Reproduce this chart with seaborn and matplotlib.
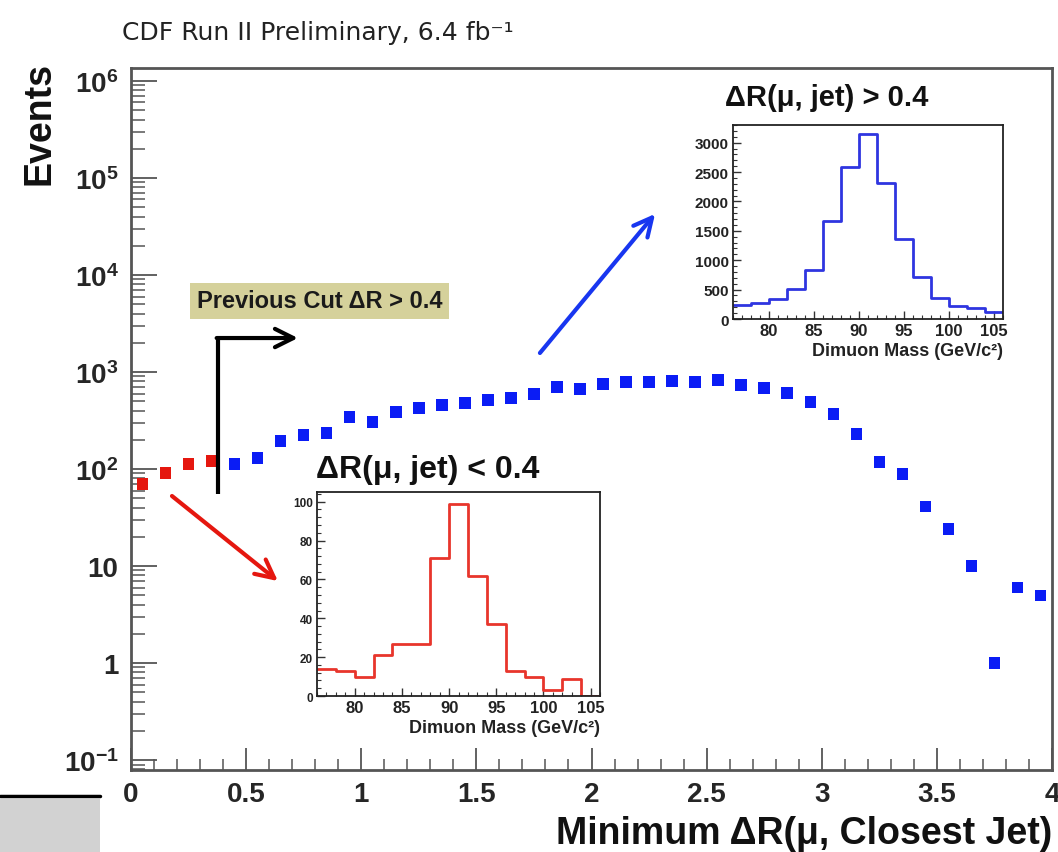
import matplotlib
matplotlib.use("Agg")
import matplotlib.pyplot as plt
import matplotlib.ticker as mticker
import matplotlib.patches as mpatches
import numpy as np
import pandas as pd
import seaborn as sns

# ---- Minimum dR(mu, closest jet): bin centres (width 0.1) and event counts ----
dr_centers = [0.05, 0.15, 0.25, 0.35, 0.45, 0.55, 0.65, 0.75, 0.85, 0.95,
              1.05, 1.15, 1.25, 1.35, 1.45, 1.55, 1.65, 1.75, 1.85, 1.95,
              2.05, 2.15, 2.25, 2.35, 2.45, 2.55, 2.65, 2.75, 2.85, 2.95,
              3.05, 3.15, 3.25, 3.35, 3.45, 3.55, 3.65, 3.75, 3.85, 3.95]
dr_events = [70, 91, 113, 121, 113, 130, 194, 224, 235, 343,
             305, 387, 426, 457, 479, 514, 539, 593, 699, 668,
             751, 788, 788, 807, 788, 827, 734, 684, 608, 491,
             369, 230, 118, 89, 41, 24, 10, 1, 6, 5]
dr_cut = 0.4

# ---- Dimuon mass spectra (2 GeV bins, 76-106 GeV) ----
mass_edges = [76, 78, 80, 82, 84, 86, 88, 90, 92, 94, 96, 98, 100, 102, 104, 106]
mass_far = [230, 265, 340, 510, 838, 1670, 2594, 3143, 2305, 1359, 708, 357, 215, 181, 113]
mass_near = [14, 13, 10, 21, 27, 27, 71, 99, 62, 37, 13, 10, 3, 9, 0]

x_tick_vals = [0, 0.5, 1, 1.5, 2, 2.5, 3, 3.5, 4]
x_tick_labels = ["0", "0.5", "1", "1.5", "2", "2.5", "3", "3.5", "4"]
y_tick_vals = [1e-1, 1, 10, 1e2, 1e3, 1e4, 1e5, 1e6]
y_tick_labels = [r"$10^{-1}$", "1", "10", r"$10^{2}$", r"$10^{3}$",
                 r"$10^{4}$", r"$10^{5}$", r"$10^{6}$"]

BLUE = "#0a1cf5"
RED = "#e5170f"
HIST_BLUE = "#2f35e0"
HIST_RED = "#e8352c"

sns.set_theme(style="white")
plt.rcParams["font.family"] = ["Liberation Sans", "DejaVu Sans"]
plt.rcParams["mathtext.fontset"] = "custom"
plt.rcParams["mathtext.rm"] = "Liberation Sans:bold"
plt.rcParams["mathtext.it"] = "Liberation Sans:bold:italic"
plt.rcParams["mathtext.bf"] = "Liberation Sans:bold"
plt.rcParams["mathtext.default"] = "rm"

W, H = 1058, 853
fig = plt.figure(figsize=(W / 100, H / 100), dpi=100)
fig.patch.set_facecolor("white")


def frac(x0, y0, x1, y1):
    """Axes rectangle from pixel corners (top-left origin)."""
    return [x0 / W, 1 - y1 / H, (x1 - x0) / W, (y1 - y0) / H]


# ---------------- main panel ----------------
ax = fig.add_axes(frac(131, 69, 1052, 771))
ax.set_yscale("log")

df = pd.DataFrame({"dr": dr_centers, "events": dr_events})
df["side"] = np.where(df["dr"] < dr_cut, "near", "far")
sns.scatterplot(data=df, x="dr", y="events", hue="side",
                palette={"near": RED, "far": BLUE}, marker="s", s=68,
                linewidth=0, legend=False, ax=ax, zorder=3, clip_on=False)

ax.set_xlim(0, 4)
ax.set_ylim(0.079, 1.36e6)
ax.set_xlabel("")
ax.set_ylabel("")

ax.xaxis.set_major_locator(mticker.FixedLocator(x_tick_vals))
ax.xaxis.set_major_formatter(mticker.FixedFormatter(x_tick_labels))
ax.xaxis.set_minor_locator(mticker.MultipleLocator(0.1))
ax.yaxis.set_major_locator(mticker.FixedLocator(y_tick_vals))
ax.yaxis.set_major_formatter(mticker.FixedFormatter(y_tick_labels))
ax.yaxis.set_minor_locator(mticker.LogLocator(base=10, subs=np.arange(2, 10)))
ax.yaxis.set_minor_formatter(mticker.NullFormatter())

ax.tick_params(axis="x", which="major", direction="in", length=16, width=1.3,
               color="#555555", labelsize=20, pad=8, bottom=True, top=False)
ax.tick_params(axis="x", which="minor", direction="in", length=8, width=1.1,
               color="#555555", bottom=True, top=False)
ax.tick_params(axis="y", which="major", direction="in", length=19, width=1.3,
               color="#555555", labelsize=20, pad=9, left=True, right=False)
ax.tick_params(axis="y", which="minor", direction="in", length=10, width=1.1,
               color="#555555", left=True, right=False)
for lab in ax.get_xticklabels() + ax.get_yticklabels():
    lab.set_fontweight("bold")
for sp in ax.spines.values():
    sp.set_color("#555555")
    sp.set_linewidth(2)

# "previous cut" marker: bent arrow and label
ax.plot([0.378, 0.378], [55, 2240], color="black", lw=3, solid_capstyle="butt", zorder=4)
ax.annotate("", xy=(0.725, 2240), xytext=(0.372, 2240),
            arrowprops=dict(arrowstyle="->,head_length=0.6,head_width=0.3",
                            color="black", lw=3, mutation_scale=22,
                            shrinkA=0, shrinkB=0), zorder=4)
ax.text(0.819, 5400, "Previous Cut \u0394R > 0.4", ha="center", va="center",
        fontsize=17, fontweight="bold", color="#1a1a1a",
        bbox=dict(boxstyle="square,pad=0.28", fc="#d5d19b", ec="none"), zorder=4)

# pointers to the mass spectra
ax.annotate("", xy=(2.276, 42600), xytext=(1.776, 1570),
            arrowprops=dict(arrowstyle="->,head_length=0.6,head_width=0.3",
                            color="#1836f0", lw=3, mutation_scale=22,
                            shrinkA=0, shrinkB=0), zorder=4)
ax.annotate("", xy=(0.638, 7.0), xytext=(0.178, 52.7),
            arrowprops=dict(arrowstyle="->,head_length=0.6,head_width=0.3",
                            color=RED, lw=3, mutation_scale=22,
                            shrinkA=0, shrinkB=0), zorder=4)

# ---------------- mass-spectrum insets ----------------
centers = [(a + b) / 2 for a, b in zip(mass_edges[:-1], mass_edges[1:])]


def mass_panel(rect, counts, color, ymax, ystep, yminor, ylab_size):
    ia = fig.add_axes(rect)
    ia.set_facecolor("white")
    sns.histplot(x=centers, weights=counts, bins=mass_edges, element="step",
                 fill=False, color=color, linewidth=2, ax=ia)
    ia.set_xlim(76, 106)
    ia.set_ylim(0, ymax)
    ia.xaxis.set_major_locator(mticker.MultipleLocator(5))
    ia.xaxis.set_minor_locator(mticker.MultipleLocator(1))
    ia.yaxis.set_major_locator(mticker.MultipleLocator(ystep))
    ia.yaxis.set_minor_locator(mticker.MultipleLocator(yminor))
    ia.tick_params(which="major", direction="in", length=6, width=1, color="#333333",
                   bottom=True, left=True, top=False, right=False, pad=3)
    ia.tick_params(which="minor", direction="in", length=3, width=0.8, color="#333333",
                   bottom=True, left=True, top=False, right=False)
    ia.tick_params(axis="x", labelsize=12)
    ia.tick_params(axis="y", labelsize=ylab_size)
    for lab in ia.get_xticklabels() + ia.get_yticklabels():
        lab.set_fontweight("bold")
        lab.set_color("#222222")
    ia.set_ylabel("")
    ia.set_xlabel("Dimuon Mass (GeV/c\u00b2)", loc="right", fontsize=13,
                  fontweight="bold", color="#222222", labelpad=3)
    for sp in ia.spines.values():
        sp.set_color("#222222")
        sp.set_linewidth(1.3)
    return ia


mass_panel(frac(733, 126, 1003, 320), mass_far, HIST_BLUE, 3300, 500, 100, 11)
mass_panel(frac(317, 493, 600, 697), mass_near, HIST_RED, 105, 20, 4, 8.5)

fig.text(827 / W, 1 - 98 / H, "\u0394R(\u03bc, jet) > 0.4", ha="center", va="center",
         fontsize=21, fontweight="bold", color="#111111")
fig.text(428 / W, 1 - 470 / H, "\u0394R(\u03bc, jet) < 0.4", ha="center", va="center",
         fontsize=23, fontweight="bold", color="#111111")

# ---------------- titles and axis labels ----------------
fig.text(122 / W, 1 - 33 / H, "CDF Run II Preliminary, 6.4 fb\u207b\u00b9",
         ha="left", va="center", fontsize=18, color="#222222",
         family=["DejaVu Sans"])
fig.text(40 / W, 1 - 62 / H, "Events", rotation=90, ha="center", va="top",
         fontsize=27, fontweight="bold", color="#111111")
fig.text(1052 / W, 1 - 844 / H, "Minimum \u0394R(\u03bc, Closest Jet)", ha="right",
         va="baseline", fontsize=27, fontweight="bold", color="#111111")

# slide-footer block in the lower-left corner
fig.patches.append(mpatches.Rectangle((0, 0), 100 / W, 53 / H, transform=fig.transFigure,
                                      facecolor="#d2d2d2", edgecolor="none", zorder=0))
fig.lines.append(plt.Line2D([0, 100 / W], [1 - 797 / H, 1 - 797 / H],
                            transform=fig.transFigure, color="black", lw=2.5))

fig.savefig("out.png", dpi=100, facecolor="white")
